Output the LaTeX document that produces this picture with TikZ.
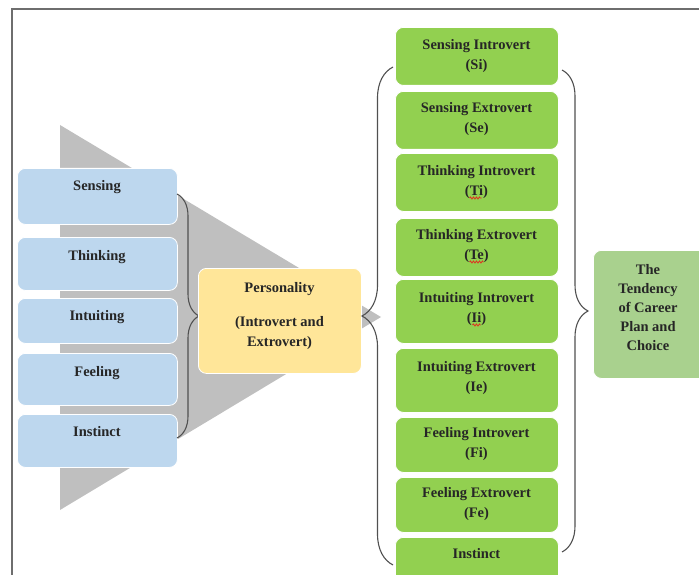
\documentclass[tikz,border=0pt]{standalone}
\usepackage{fontspec}
\setmainfont{Liberation Serif}
\usetikzlibrary{decorations.pathreplacing,decorations.pathmorphing}
\definecolor{bluefill}{HTML}{BDD7EE}
\definecolor{yellowfill}{HTML}{FFE699}
\definecolor{greenfill}{HTML}{92D050}
\definecolor{lightgreen}{HTML}{A9D18E}
\definecolor{trigray}{HTML}{BFBFBF}
\definecolor{framegray}{HTML}{6E6E6E}
\definecolor{bracegray}{HTML}{505050}
\definecolor{txtdark}{HTML}{262626}
\definecolor{spellred}{HTML}{E03020}
\begin{document}
\begin{tikzpicture}[x=1pt,y=-1pt,
  font=\bfseries\fontsize{14.5}{20}\selectfont,
  boxbase/.style={rounded corners=8pt, draw=white, line width=0.8pt, inner sep=0pt, anchor=north west},
  bluebx/.style={boxbase, fill=bluefill, minimum width=160pt},
  greenbx/.style={boxbase, fill=greenfill, minimum width=163pt},
  txt/.style={anchor=base, inner sep=0pt, align=center, text=txtdark},
  bracestyle/.style={decorate, draw=bracegray, line width=1.1pt},
  squiggle/.style={draw=spellred, line width=0.8pt, decorate, decoration={snake, amplitude=1pt, segment length=3pt}}]
\useasboundingbox (0,0) rectangle (699,575);
\clip (0,0) rectangle (699,575);
% frame
\draw[framegray, line width=1.5pt] (12,575) -- (12,9) -- (705,9);
% gray triangle
\fill[trigray] (60,125) -- (381,317) -- (60,510) -- cycle;
% blue boxes
\node[bluebx, minimum height=56pt] (sens) at (17,168) {};
\node[bluebx, minimum height=53pt] (thin) at (17,237) {};
\node[bluebx, minimum height=45pt] (intu) at (17,298) {};
\node[bluebx, minimum height=52pt] (feel) at (17,353) {};
\node[bluebx, minimum height=53pt] (inst) at (17,414) {};
\node[txt] (sensT) at (97,190) {Sensing};
\node[txt] (thinT) at (97,260) {Thinking};
\node[txt] (intuT) at (97,320) {Intuiting};
\node[txt] (feelT) at (97,376) {Feeling};
\node[txt] (instT) at (97,436) {Instinct};
% left brace
\coordinate (lbTop) at (177,194);
\coordinate (lbBot) at (177,438);
\draw[bracestyle, decoration={brace, amplitude=22pt}] (lbTop) -- (lbBot);
% personality
\node[boxbase, fill=yellowfill, minimum width=163pt, minimum height=105pt] (pers) at (198,268) {};
\node[txt] (persT) at (279.5,346) {Personality\\[14pt](Introvert and\\Extrovert)};
% right big brace
\coordinate (rbBot) at (393,565);
\coordinate (rbTop) at (393,67);
\draw[bracestyle, decoration={brace, amplitude=31pt}] (rbBot) -- (rbTop);
% green boxes
\node[greenbx, minimum height=58pt] (si) at (395,27) {};
\node[greenbx, minimum height=58pt] (se) at (395,91) {};
\node[greenbx, minimum height=58pt] (ti) at (395,153) {};
\node[greenbx, minimum height=58pt] (te) at (395,218) {};
\node[greenbx, minimum height=64pt] (ii) at (395,279) {};
\node[greenbx, minimum height=64pt] (ie) at (395,348) {};
\node[greenbx, minimum height=55pt] (fi) at (395,417) {};
\node[greenbx, minimum height=55pt] (fe) at (395,477) {};
\node[greenbx, minimum height=55pt] (ins) at (395,537) {};
\node[txt] (siT) at (476.5,70) {Sensing Introvert\\(Si)};
\node[txt] (seT) at (476.5,133) {Sensing Extrovert\\(Se)};
\node[txt] (tiT) at (476.5,195) {Thinking Introvert\\(Ti)};
\node[txt] (teT) at (476.5,259) {Thinking Extrovert\\(Te)};
\node[txt] (iiT) at (476.5,322) {Intuiting Introvert\\(Ii)};
\node[txt] (ieT) at (476.5,391) {Intuiting Extrovert\\(Ie)};
\node[txt] (fiT) at (476.5,457.5) {Feeling Introvert\\(Fi)};
\node[txt] (feT) at (476.5,517.5) {Feeling Extrovert\\(Fe)};
\node[txt] (insT) at (476.5,558) {Instinct};
% spell-check marks
\path[squiggle] ([xshift=-7pt,yshift=-3pt]tiT.base) -- ([xshift=5pt,yshift=-3pt]tiT.base);
\path[squiggle] ([xshift=-7pt,yshift=-3pt]teT.base) -- ([xshift=7pt,yshift=-3pt]teT.base);
\path[squiggle] ([xshift=-4pt,yshift=-3pt]iiT.base) -- ([xshift=4pt,yshift=-3pt]iiT.base);
% right closing brace
\coordinate (cbTop) at (562,70);
\coordinate (cbBot) at (562,552);
\draw[bracestyle, decoration={brace, amplitude=26pt}] (cbTop) -- (cbBot);
% tendency
\node[boxbase, fill=lightgreen, minimum width=120pt, minimum height=128pt] (tend) at (593,250) {};
\node[txt, font=\bfseries\fontsize{14.5}{19}\selectfont] (tendT) at (648,350.5) {The\\Tendency\\of Career\\Plan and\\Choice};
\end{tikzpicture}
\end{document}
